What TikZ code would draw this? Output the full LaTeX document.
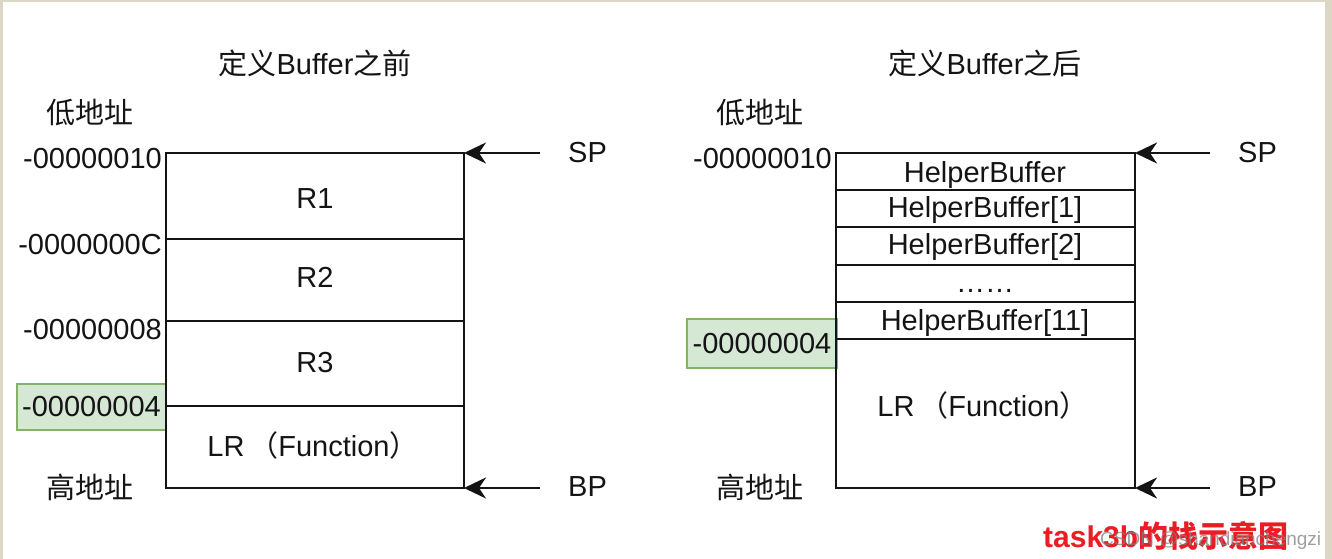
\documentclass[tikz,border=0pt]{standalone}
\usepackage{fontspec}
\setmainfont{Liberation Sans}
\newfontfamily\cjk{Noto Sans CJK SC}
\usetikzlibrary{arrows.meta}
\definecolor{framecol}{RGB}{220,214,196}
\definecolor{ink}{RGB}{20,20,20}
\definecolor{gfill}{HTML}{D5E8D4}
\definecolor{gdraw}{HTML}{82B366}
\definecolor{redmark}{RGB}{236,28,36}
\begin{document}
\begin{tikzpicture}[x=1pt,y=-1pt,
  font=\fontsize{29}{34}\selectfont,
  wall/.style={draw=ink, line width=2.6pt},
  ptr/.style={draw=ink, line width=2.6pt, -{Stealth[length=22pt,width=21pt,inset=7pt]}},
  txt/.style={inner sep=0pt, text=ink, anchor=base},
  addr/.style={txt, anchor=base east},
  reg/.style={txt, anchor=base west},
  hl/.style={fill=gfill, draw=gdraw, line width=1.6pt, inner sep=0pt, text=ink},
]
% page background with thin frame
\fill[framecol] (0,0) rectangle (1332,559);
\fill[white] (3,2) rectangle (1325,559);
\useasboundingbox (0,0) rectangle (1332,559);

% ---------------- stack before the buffer ----------------
\node[txt] (ltitle) at (315,75) {{\cjk 定义}Buffer{\cjk 之前}};
\node[txt] (llow) at (90,124) {\cjk 低地址};
\node[txt] (lhigh) at (90,498) {\cjk 高地址};

\coordinate (lTL) at (166,153);
\coordinate (lTR) at (464,153);
\coordinate (lBL) at (166,488);
\coordinate (lBR) at (464,488);
\coordinate (lD1a) at (166,239); \coordinate (lD1b) at (464,239);
\coordinate (lD2a) at (166,321); \coordinate (lD2b) at (464,321);
\coordinate (lD3a) at (166,406); \coordinate (lD3b) at (464,406);

\node[hl, minimum width=149pt, minimum height=46pt] (lgreen) at (91.5,407) {-00000004};

\draw[wall] (lTL) rectangle (lBR);
\draw[wall] (lD1a) -- (lD1b);
\draw[wall] (lD2a) -- (lD2b);
\draw[wall] (lD3a) -- (lD3b);

\node[addr] (la1) at (162,168) {-00000010};
\node[addr] (la2) at (162,254) {-0000000C};
\node[addr] (la3) at (162,339) {-00000008};

\node[txt] (lr1) at (315,208) {R1};
\node[txt] (lr2) at (315,287) {R2};
\node[txt] (lr3) at (315,372) {R3};
\node[txt] (llr) at (313,456) {LR\,{\cjk （}Function{\cjk ）}};

\coordinate (lspS) at (540,153);
\coordinate (lbpS) at (540,488);
\draw[ptr] (lspS) -- (lTR);
\draw[ptr] (lbpS) -- (lBR);
\node[reg] (lsp) at (568,162) {SP};
\node[reg] (lbp) at (568,496) {BP};

% ---------------- stack after the buffer ----------------
\node[txt] (rtitle) at (985,75) {{\cjk 定义}Buffer{\cjk 之后}};
\node[txt] (rlow) at (760,124) {\cjk 低地址};
\node[txt] (rhigh) at (760,498) {\cjk 高地址};

\coordinate (rTL) at (836,153);
\coordinate (rTR) at (1135,153);
\coordinate (rBL) at (836,488);
\coordinate (rBR) at (1135,488);
\coordinate (rD1a) at (836,190); \coordinate (rD1b) at (1135,190);
\coordinate (rD2a) at (836,227); \coordinate (rD2b) at (1135,227);
\coordinate (rD3a) at (836,265); \coordinate (rD3b) at (1135,265);
\coordinate (rD4a) at (836,302); \coordinate (rD4b) at (1135,302);
\coordinate (rD5a) at (836,339); \coordinate (rD5b) at (1135,339);

\node[hl, minimum width=150pt, minimum height=49pt] (rgreen) at (762,343.5) {-00000004};

\draw[wall] (rTL) rectangle (rBR);
\draw[wall] (rD1a) -- (rD1b);
\draw[wall] (rD2a) -- (rD2b);
\draw[wall] (rD3a) -- (rD3b);
\draw[wall] (rD4a) -- (rD4b);
\draw[wall] (rD5a) -- (rD5b);

\node[addr] (ra1) at (832,168) {-00000010};

\node[txt] (rb0) at (985,182) {HelperBuffer};
\node[txt] (rb1) at (985,217) {HelperBuffer[1]};
\node[txt] (rb2) at (985,254) {HelperBuffer[2]};
\node[txt] (rb3) at (985,292) {……};
\node[txt] (rb4) at (985,330) {HelperBuffer[11]};
\node[txt] (rlr) at (983,416) {LR\,{\cjk （}Function{\cjk ）}};

\coordinate (rspS) at (1210,153);
\coordinate (rbpS) at (1210,488);
\draw[ptr] (rspS) -- (rTR);
\draw[ptr] (rbpS) -- (rBR);
\node[reg] (rsp) at (1238,162) {SP};
\node[reg] (rbp) at (1238,496) {BP};

% ---------------- caption and credit ----------------
\node[reg, text=redmark, font=\fontsize{30}{34}\selectfont\bfseries] (cap) at (1043,547)
  {task3b{\cjk\bfseries 的栈示意图}};
\node[reg, text=gray, opacity=0.75, font=\fontsize{19}{22}\selectfont] (credit) at (1100,545)
  {CSDN @shandianchengzi};
\end{tikzpicture}
\end{document}
